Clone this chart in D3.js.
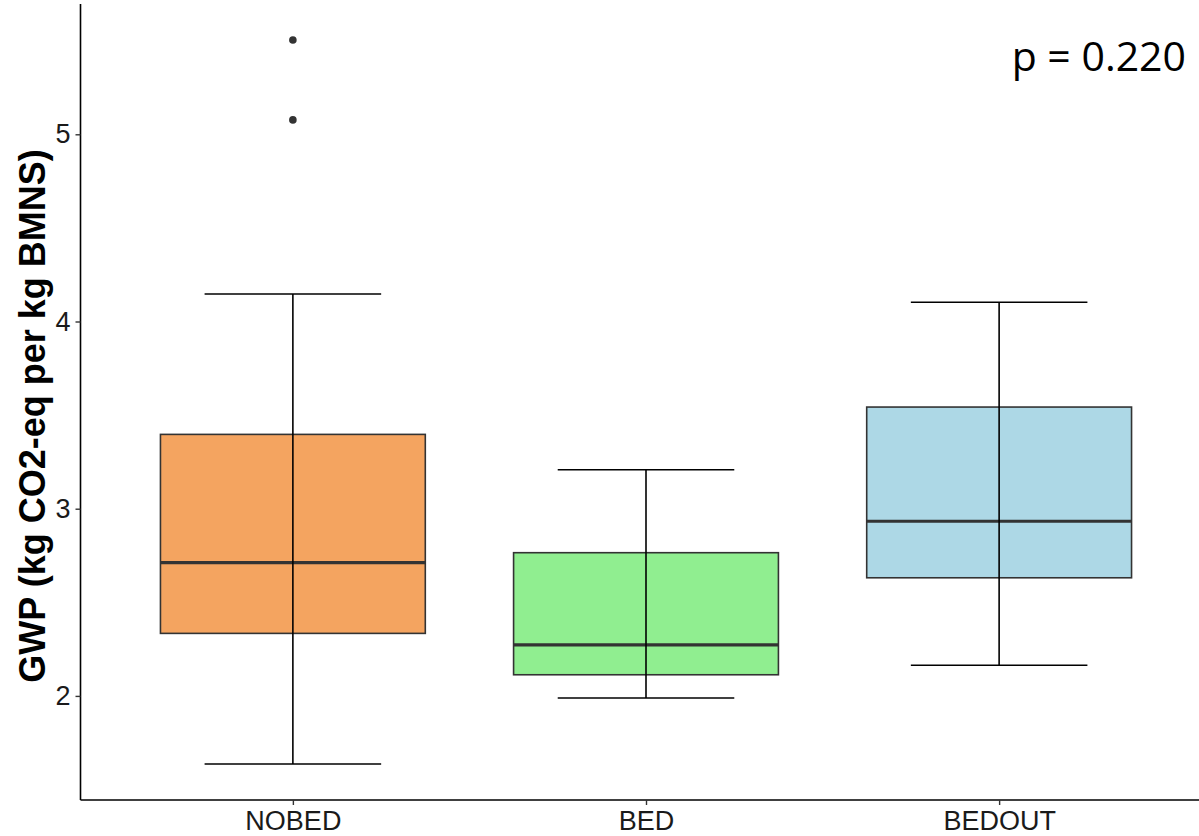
<!DOCTYPE html>
<html>
<head>
<meta charset="utf-8">
<script src="https://cdn.jsdelivr.net/npm/d3@7"></script>
<style>
  html, body { margin: 0; padding: 0; background: #fff; }
  svg { display: block; }
</style>
</head>
<body>
<svg id="chart" width="1199" height="836"></svg>
<script>
// groups and five-number summaries
const groups = ['NOBED', 'BED', 'BEDOUT'];
const lowerWhisker = [1.636, 1.989, 2.164];
const q1 = [2.334, 2.113, 2.631];
const median = [2.712, 2.273, 2.933];
const q3 = [3.397, 2.765, 3.543];
const upperWhisker = [4.147, 3.208, 4.103];
const outliers = [[5.504, 5.077], [], []];
const fills = ['#F4A460', '#90EE90', '#ADD8E6'];
const yTicks = [2, 3, 4, 5];
const pLabel = 'p = 0.220';

const svg = d3.select('#chart');

const plotLeft = 80.5, plotBottom = 800, plotTop = 4;

// discrete x like ggplot: 0.6 expansion each side
const x = d3.scalePoint()
  .domain(groups)
  .range([81, 1211])
  .padding(0.6);
const step = x.step();

const y = d3.scaleLinear()
  .domain([1.444, 5.696])
  .range([plotBottom, plotTop]);

const boxW = step * 0.75;
const capW = step * 0.5;

const g = svg.append('g');

groups.forEach((name, i) => {
  const cx = x(name);

  // whisker caps
  [lowerWhisker[i], upperWhisker[i]].forEach(v => {
    g.append('line')
      .attr('x1', cx - capW / 2).attr('x2', cx + capW / 2)
      .attr('y1', y(v)).attr('y2', y(v))
      .style('stroke', '#000').style('stroke-width', 1.6);
  });

  // box
  g.append('rect')
    .attr('x', cx - boxW / 2)
    .attr('y', y(q3[i]))
    .attr('width', boxW)
    .attr('height', y(q1[i]) - y(q3[i]))
    .style('fill', fills[i])
    .style('stroke', '#333')
    .style('stroke-width', 1.6);

  // median
  g.append('line')
    .attr('x1', cx - boxW / 2).attr('x2', cx + boxW / 2)
    .attr('y1', y(median[i])).attr('y2', y(median[i]))
    .style('stroke', '#333').style('stroke-width', 3.2);

  // whisker line drawn over the box
  g.append('line')
    .attr('x1', cx).attr('x2', cx)
    .attr('y1', y(lowerWhisker[i])).attr('y2', y(upperWhisker[i]))
    .style('stroke', '#000').style('stroke-width', 1.6);

  // outliers
  g.selectAll(null)
    .data(outliers[i])
    .enter()
    .append('circle')
    .attr('cx', cx)
    .attr('cy', d => y(d))
    .attr('r', 3.8)
    .style('fill', '#333');
});

// y axis
const yAxis = svg.append('g')
  .attr('transform', `translate(${plotLeft},0)`)
  .call(d3.axisLeft(y).tickValues(yTicks).tickSize(5).tickPadding(5).tickFormat(d3.format('d')));
yAxis.select('.domain')
  .attr('d', `M0,${plotTop}V${plotBottom}`)
  .style('stroke', '#000').style('stroke-width', 1.6);
yAxis.selectAll('.tick line').style('stroke', '#333').style('stroke-width', 1.4);
yAxis.selectAll('.tick text')
  .style('font-family', '"Liberation Sans", Arial, sans-serif')
  .style('font-size', '27px')
  .style('fill', '#1a1a1a');

// x axis
const xAxis = svg.append('g')
  .attr('transform', `translate(0,${plotBottom})`)
  .call(d3.axisBottom(x).tickSize(5).tickPadding(6));
xAxis.select('.domain')
  .attr('d', `M${plotLeft},0H1199`)
  .style('stroke', '#000').style('stroke-width', 1.6);
xAxis.selectAll('.tick line').style('stroke', '#333').style('stroke-width', 1.4);
xAxis.selectAll('.tick text')
  .style('font-family', '"Liberation Sans", Arial, sans-serif')
  .style('font-size', '27px')
  .style('fill', '#1a1a1a');

// y title
svg.append('text')
  .attr('transform', 'translate(45,416) rotate(-90)')
  .attr('text-anchor', 'middle')
  .style('font-family', '"Liberation Sans", Arial, sans-serif')
  .style('font-weight', 'bold')
  .style('font-size', '36px')
  .style('fill', '#000')
  .text('GWP (kg CO2-eq per kg BMNS)');

// p-value annotation
svg.append('text')
  .attr('x', 1186)
  .attr('y', 71)
  .attr('text-anchor', 'end')
  .style('font-family', '"Open Sans", "Noto Sans", sans-serif')
  .style('font-size', '41px')
  .style('fill', '#000')
  .text(pLabel);
</script>
</body>
</html>
